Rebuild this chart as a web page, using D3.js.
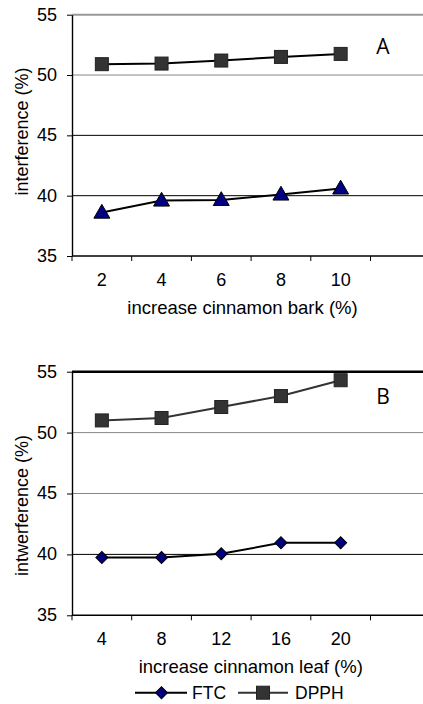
<!DOCTYPE html>
<html><head><meta charset="utf-8">
<script src="https://cdn.jsdelivr.net/npm/d3@7"></script>
<style>body{margin:0;background:#fff;overflow:hidden}svg{display:block}</style>
</head><body>
<svg id="c" width="423" height="704"></svg>
<script>
const catsA = ["2","4","6","8","10"];
const ftcA = [38.6, 39.6, 39.65, 40.1, 40.6];
const dpphA = [50.9, 50.95, 51.2, 51.5, 51.75];
const catsB = ["4","8","12","16","20"];
const ftcB = [39.75, 39.75, 40.05, 40.95, 40.95];
const dpphB = [51.0, 51.2, 52.1, 53.0, 54.3];
const yTicks = [35, 40, 45, 50, 55];
const font = "Liberation Sans, Arial, sans-serif";

const svg = d3.select("#c");

function panel(opt){
  const g = svg.append("g");
  const x0 = 72, bw = 59.7;
  const domain = opt.cats.concat([" "]);
  const x = d3.scaleBand().domain(domain).range([x0, x0 + bw*domain.length]).padding(0);
  const y = d3.scaleLinear().domain([35,55]).range([opt.bottom, opt.top]);
  // gridlines
  yTicks.slice(1).forEach((t,i)=>{
    g.append("line").attr("x1",x0).attr("x2",440).attr("y1",y(t)).attr("y2",y(t))
      .attr("stroke",opt.gridColors[i]).attr("stroke-width",opt.gridW[i]);
  });
  // y axis
  const ya = d3.axisLeft(y).tickValues(yTicks).tickSize(5).tickSizeOuter(0);
  const yg = g.append("g").attr("transform",`translate(${x0},0)`).call(ya);
  yg.select(".domain").attr("stroke","#000").attr("stroke-width",1.4);
  yg.selectAll(".tick line").attr("stroke","#000");
  yg.selectAll("text").attr("font-family",font).attr("font-size",18).attr("fill","#000").attr("x",-15).attr("dy","0.3em");
  // x axis
  g.append("line").attr("x1",x0).attr("x2",440).attr("y1",y(35)).attr("y2",y(35)).attr("stroke","#000").attr("stroke-width",1.4);
  domain.forEach(d=>{
    g.append("line").attr("x1",x(d)).attr("x2",x(d)).attr("y1",y(35)).attr("y2",y(35)+5).attr("stroke","#000");
  });
  opt.cats.forEach(d=>{
    g.append("text").attr("x",x(d)+x.bandwidth()/2).attr("y",y(35)+29.5).attr("text-anchor","middle")
      .attr("font-family",font).attr("font-size",18).text(d);
  });
  // titles
  g.append("text").attr("x",opt.xTitleX).attr("y",opt.bottom+58).attr("text-anchor","middle")
    .attr("font-family",font).attr("font-size",18.5).text(opt.xTitle);
  g.append("text").attr("transform",`translate(28,${opt.yTitleY}) rotate(-90)`).attr("text-anchor","middle")
    .attr("font-family",font).attr("font-size",18).text(opt.yTitle);
  g.append("text").attr("x",383).attr("y",opt.labelY).attr("text-anchor","middle")
    .attr("font-family","Open Sans, sans-serif").attr("font-size",21).text(opt.label);
  const cx = d => x(d)+x.bandwidth()/2;
  const line = d3.line().x((v,i)=>cx(opt.cats[i])).y(v=>y(v));
  // DPPH
  g.append("path").attr("d",line(opt.dpph)).attr("fill","none").attr("stroke",opt.dpphLine).attr("stroke-width",2);
  g.selectAll(null).data(opt.dpph).enter().append("rect")
    .attr("x",(v,i)=>cx(opt.cats[i])-6.5).attr("y",v=>y(v)-6.5).attr("width",13).attr("height",13)
    .attr("fill","#333").attr("stroke","#222").attr("stroke-width",1);
  // FTC
  g.append("path").attr("d",line(opt.ftc)).attr("fill","none").attr("stroke","#000").attr("stroke-width",2);
  const sym = d3.symbol().type(opt.ftcSym).size(opt.ftcSize);
  g.selectAll(null).data(opt.ftc).enter().append("path")
    .attr("d",sym).attr("transform",(v,i)=>`translate(${cx(opt.cats[i])},${y(v)+opt.symDy}) rotate(${opt.symRot})`)
    .attr("fill","#000080").attr("stroke","#000").attr("stroke-width",1);
  return g;
}

panel({cats:catsA, ftc:ftcA, dpph:dpphA, top:14.7, bottom:256, xTitle:"increase cinnamon bark (%)",
  yTitle:"interference (%)", label:"A", labelY:53.5, xTitleX:242.5, yTitleY:131.5,
  gridColors:["#000","#000","#888","#999"], gridW:[1,1,1,2],
  dpphLine:"#000", ftcSym:d3.symbolTriangle, ftcSize:110, symDy:1, symRot:0});
panel({cats:catsB, ftc:ftcB, dpph:dpphB, top:371.7, bottom:615.3, xTitle:"increase cinnamon leaf (%)",
  yTitle:"intwerference (%)", label:"B", labelY:403.5, xTitleX:250.8, yTitleY:505.5,
  gridColors:["#000","#888","#888","#000"], gridW:[1,1,1,2.5],
  dpphLine:"#333", ftcSym:d3.symbolSquare, ftcSize:72, symDy:0, symRot:45});

// legend
const ly = 692.7;
const lg = svg.append("g");
lg.append("line").attr("x1",135).attr("x2",187).attr("y1",ly).attr("y2",ly).attr("stroke","#000").attr("stroke-width",2);
lg.append("path").attr("d",d3.symbol().type(d3.symbolSquare).size(72)).attr("transform",`translate(161.5,${ly}) rotate(45)`)
  .attr("fill","#000080").attr("stroke","#000");
lg.append("text").attr("x",192).attr("y",ly+6.5).attr("font-family",font).attr("font-size",17.5).text("FTC");
lg.append("line").attr("x1",238).attr("x2",288).attr("y1",ly).attr("y2",ly).attr("stroke","#333").attr("stroke-width",2);
lg.append("rect").attr("x",256.5).attr("y",ly-6.5).attr("width",13).attr("height",13).attr("fill","#333").attr("stroke","#222");
lg.append("text").attr("x",295).attr("y",ly+6.5).attr("font-family",font).attr("font-size",17.5).text("DPPH");
</script>
</body></html>
